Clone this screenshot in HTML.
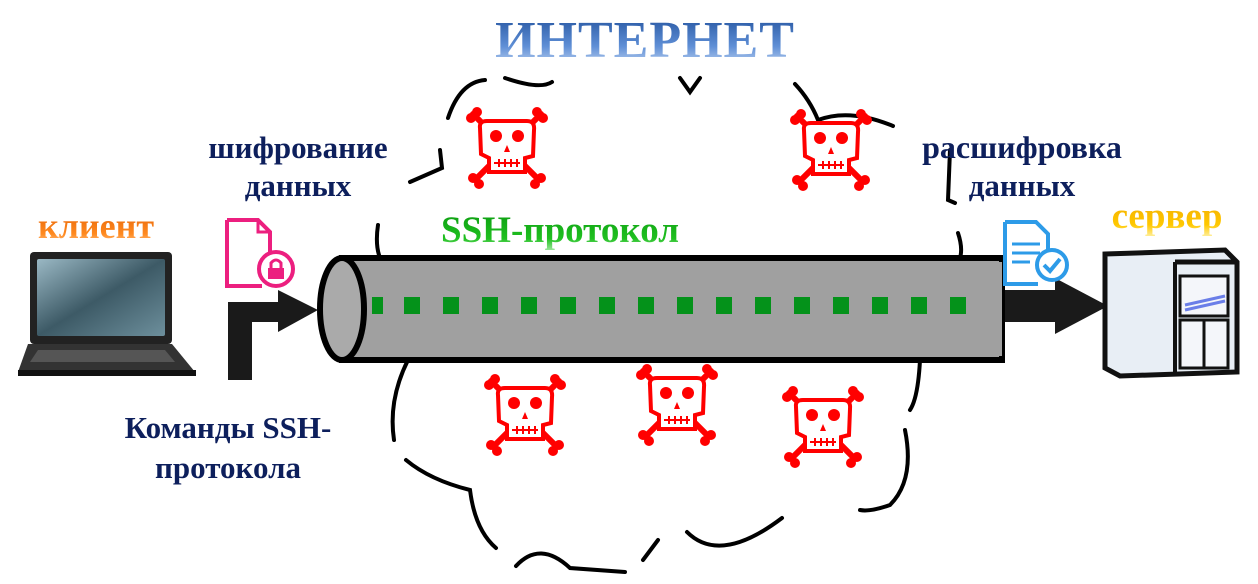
<!DOCTYPE html>
<html><head><meta charset="utf-8"><style>
html,body{margin:0;padding:0;background:#fff;}
svg{display:block;}
.t{font-family:"Liberation Serif","Noto Serif CJK SC",serif;font-weight:bold;}
</style></head><body>
<svg width="1258" height="584" viewBox="0 0 1258 584" xmlns="http://www.w3.org/2000/svg">
<defs>
<linearGradient id="gb" x1="0" y1="0" x2="0" y2="1"><stop offset="0" stop-color="#1f4f9a"/><stop offset="0.6" stop-color="#5f8fd6"/><stop offset="1" stop-color="#c8daf4"/></linearGradient>
<linearGradient id="go" x1="0" y1="0" x2="0" y2="1"><stop offset="0" stop-color="#e05a00"/><stop offset="0.7" stop-color="#ff8a20"/><stop offset="1" stop-color="#ffd0a0"/></linearGradient>
<linearGradient id="gy" x1="0" y1="0" x2="0" y2="1"><stop offset="0" stop-color="#f0a800"/><stop offset="0.7" stop-color="#ffc800"/><stop offset="1" stop-color="#fff0a0"/></linearGradient>
<linearGradient id="gg" x1="0" y1="0" x2="0" y2="1"><stop offset="0" stop-color="#0a9a10"/><stop offset="0.7" stop-color="#20c020"/><stop offset="1" stop-color="#a0e8a0"/></linearGradient>
<linearGradient id="scr" x1="0" y1="0" x2="1" y2="1"><stop offset="0" stop-color="#9ab8c4"/><stop offset="0.5" stop-color="#3d5a66"/><stop offset="1" stop-color="#6d8f9c"/></linearGradient>
<g id="skull">
<g stroke="#f00" stroke-width="6" stroke-linecap="round"><line x1="-34" y1="-34" x2="32" y2="32"/><line x1="34" y1="-34" x2="-32" y2="32"/></g>
<g fill="#f00"><circle cx="-36" cy="-30" r="5"/><circle cx="-30" cy="-36" r="5"/><circle cx="36" cy="-30" r="5"/><circle cx="30" cy="-36" r="5"/><circle cx="-34" cy="30" r="5"/><circle cx="-28" cy="36" r="5"/><circle cx="34" cy="30" r="5"/><circle cx="28" cy="36" r="5"/></g>
<path d="M-27,-20 Q-28,-27 -20,-27 L20,-27 Q28,-27 27,-18 L26,8 L18,10 L18,24 L-18,24 L-18,10 L-26,6 Z" fill="#fff" stroke="#f00" stroke-width="4"/>
<circle cx="-11" cy="-12" r="6" fill="#f00"/><circle cx="11" cy="-12" r="6" fill="#f00"/>
<path d="M0,-3 L-3,4 L3,4 Z" fill="#f00"/>
<path d="M-13,15 L13,15 M-8,11 V19 M-2,11 V19 M4,11 V19 M10,11 V19" stroke="#f00" stroke-width="2"/>
</g>
</defs>

<text class="t" x="645" y="57" font-size="52" text-anchor="middle" fill="url(#gb)" letter-spacing="1">ИНТЕРНЕТ</text>

<g fill="none" stroke="#000" stroke-width="4" stroke-linecap="round">
<path d="M448,118 Q460,82 485,80 M505,78 Q540,90 552,82"/>
<path d="M680,78 L690,92 L700,78"/>
<path d="M795,84 Q810,100 818,120 Q850,108 893,126"/>
<path d="M440,150 L442,168 L410,182"/>
<path d="M378,225 Q375,245 380,258"/>
<path d="M950,150 L948,200 L955,203"/>
<path d="M958,233 Q963,248 960,258"/>
<path d="M408,360 Q388,400 394,440"/>
<path d="M406,460 Q430,480 470,490 Q475,530 496,548"/>
<path d="M516,566 Q540,540 570,568 L625,572"/>
<path d="M643,560 L658,540"/>
<path d="M687,532 Q720,565 782,518"/>
<path d="M920,360 Q918,398 910,410"/>
<path d="M905,430 Q915,480 890,505 Q870,512 860,510"/>
</g>

<g>
<use href="#skull" transform="translate(507,148)"/>
<use href="#skull" transform="translate(831,150)"/>
<use href="#skull" transform="translate(525,415)"/>
<use href="#skull" transform="translate(677,405)"/>
<use href="#skull" transform="translate(823,427)"/>
</g>

<text class="t" x="560" y="242" font-size="37" text-anchor="middle" fill="url(#gg)">SSH-протокол</text>

<g>
<rect x="990" y="290" width="70" height="32" fill="#1a1a1a"/>
<polygon points="1055,278 1108,306 1055,334" fill="#1a1a1a"/>
</g>

<g>
<rect x="342" y="258" width="660" height="102" fill="#a0a0a0" stroke="#000" stroke-width="6"/>
<rect x="342" y="262" width="660" height="94" fill="#a0a0a0"/>
<ellipse cx="342" cy="309" rx="22" ry="51" fill="#aaa" stroke="#000" stroke-width="6"/>
<g fill="#04921a">
<rect x="372" y="297" width="11" height="17"/><rect x="404" y="297" width="16" height="17"/><rect x="443" y="297" width="16" height="17"/><rect x="482" y="297" width="16" height="17"/><rect x="521" y="297" width="16" height="17"/><rect x="560" y="297" width="16" height="17"/><rect x="599" y="297" width="16" height="17"/><rect x="638" y="297" width="16" height="17"/><rect x="677" y="297" width="16" height="17"/><rect x="716" y="297" width="16" height="17"/><rect x="755" y="297" width="16" height="17"/><rect x="794" y="297" width="16" height="17"/><rect x="833" y="297" width="16" height="17"/><rect x="872" y="297" width="16" height="17"/><rect x="911" y="297" width="16" height="17"/><rect x="950" y="297" width="16" height="17"/>
</g>
</g>

<path d="M228,380 L228,302 L278,302 L278,290 L318,310 L278,332 L278,322 L252,322 L252,380 Z" fill="#1a1a1a"/>

<g>
<rect x="30" y="252" width="142" height="92" rx="4" fill="#222"/>
<rect x="37" y="259" width="128" height="77" rx="2" fill="url(#scr)"/>
<path d="M28,344 L172,344 L195,372 L18,372 Z" fill="#333"/>
<path d="M38,350 L165,350 L175,362 L30,362 Z" fill="#555"/>
<rect x="18" y="370" width="178" height="6" fill="#111"/>
</g>

<g>
<path d="M227,220 L227,286 L262,286" fill="none" stroke="#ec1f7f" stroke-width="4"/>
<path d="M227,220 L258,220 L270,232 L270,255" fill="none" stroke="#ec1f7f" stroke-width="4"/>
<path d="M258,220 L258,232 L270,232" fill="none" stroke="#ec1f7f" stroke-width="3"/>
<circle cx="276" cy="269" r="17" fill="#fff" stroke="#ec1f7f" stroke-width="4"/>
<rect x="268" y="268" width="16" height="11" fill="#ec1f7f"/>
<path d="M271,268 V263 Q276,257 281,263 V268" fill="none" stroke="#ec1f7f" stroke-width="3"/>
</g>

<g>
<path d="M1005,222 L1005,284 L1038,284" fill="none" stroke="#2d9be8" stroke-width="4"/>
<path d="M1005,222 L1036,222 L1048,234 L1048,250" fill="none" stroke="#2d9be8" stroke-width="4"/>
<path d="M1012,244 H1040 M1012,253 H1040 M1012,262 H1030" stroke="#2d9be8" stroke-width="3"/>
<circle cx="1052" cy="265" r="15" fill="#fff" stroke="#2d9be8" stroke-width="4"/>
<path d="M1044,265 L1050,271 L1060,259" fill="none" stroke="#2d9be8" stroke-width="4"/>
</g>

<g>
<path d="M1105,254 L1225,250 L1237,262 L1237,372 L1120,376 L1105,368 Z" fill="#e8eef5" stroke="#111" stroke-width="5"/>
<path d="M1175,262 L1237,262" stroke="#111" stroke-width="5"/>
<rect x="1180" y="276" width="48" height="40" fill="#f4f6fa" stroke="#111" stroke-width="3"/>
<path d="M1185,305 L1225,296 M1185,310 L1225,301" stroke="#6a7ee8" stroke-width="3"/>
<rect x="1180" y="320" width="48" height="48" fill="#f4f6fa" stroke="#111" stroke-width="3"/>
<line x1="1204" y1="320" x2="1204" y2="368" stroke="#111" stroke-width="3"/>
<line x1="1175" y1="262" x2="1175" y2="374" stroke="#111" stroke-width="4"/>
</g>

<text class="t" x="96" y="238" font-size="36" text-anchor="middle" fill="url(#go)">клиент</text>
<text class="t" x="1167" y="228" font-size="37" text-anchor="middle" fill="url(#gy)">сервер</text>

<g class="t" font-size="31" fill="#0d1f5c" text-anchor="middle">
<text x="298" y="158">шифрование</text>
<text x="298" y="196">данных</text>
<text x="1022" y="158" font-size="32">расшифровка</text>
<text x="1022" y="196">данных</text>
<text x="228" y="438">Команды SSH-</text>
<text x="228" y="478">протокола</text>
</g>
</svg>
</body></html>
